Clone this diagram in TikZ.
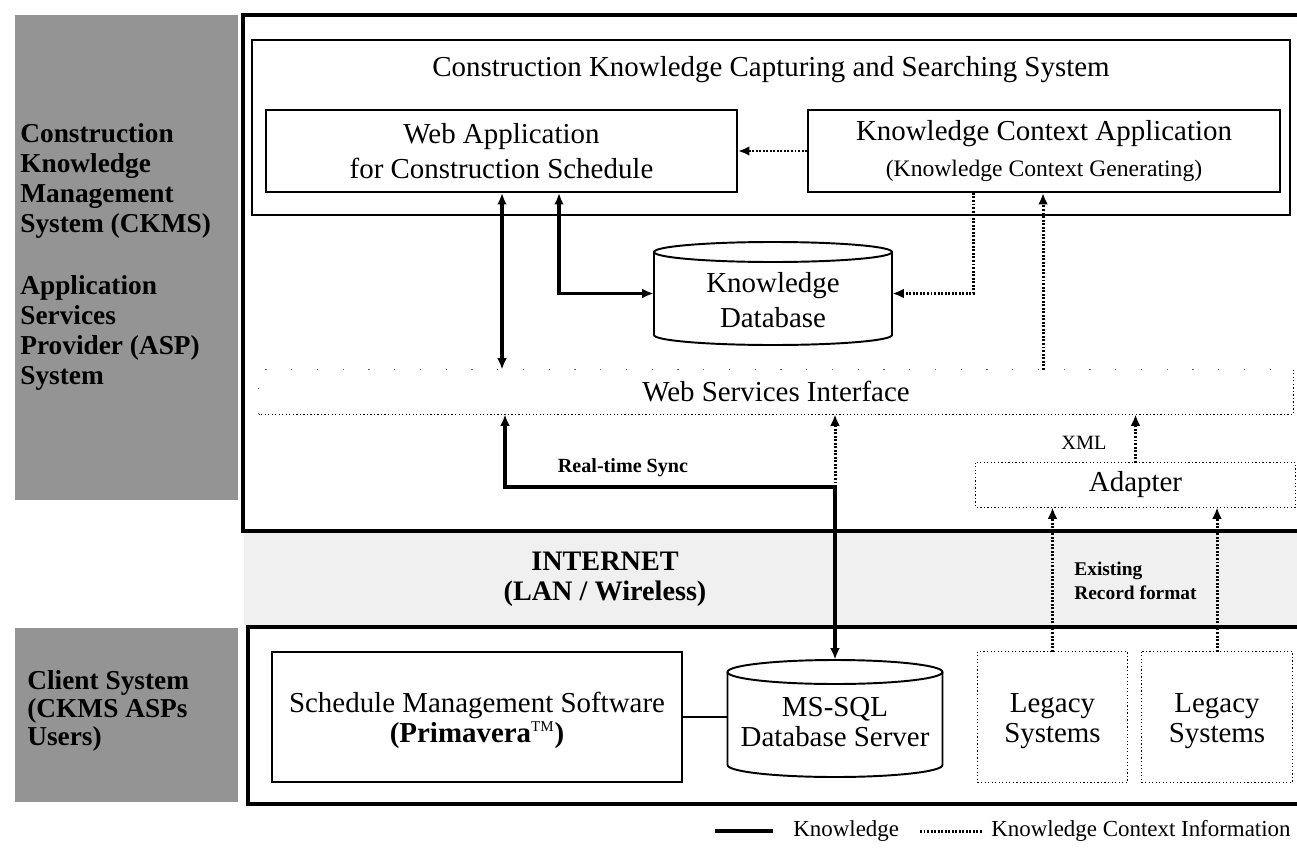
\documentclass[tikz,border=0pt]{standalone}
\usepackage{fontspec}
\setmainfont{Liberation Serif}
\usetikzlibrary{arrows.meta}
% one drawing unit = one pixel of the 1297 x 848 layout
\def\pxl{0.567pt}
\newcommand\mainfs{\fontsize{16.4}{20}\selectfont}
\newcommand\subfs{\fontsize{13.4}{16}\selectfont}
\newcommand\sidefs{\fontsize{15.5}{17}\selectfont}
\newcommand\notefs{\fontsize{11.4}{14}\selectfont}
\newcommand\legfs{\fontsize{13}{15}\selectfont}
\newcommand\rowfs{\fontsize{16.4}{17}\selectfont}

\begin{document}
\begin{tikzpicture}[x=0.567pt, y=-0.567pt,
  >={Latex[length=6.5pt,width=5.5pt]},
  panel/.style={fill=black!42},
  frame/.style={line width=1.8pt},
  sbox/.style={draw, line width=1.1pt, fill=white, inner sep=0pt, align=center, font=\mainfs},
  hbox/.style={inner sep=0pt, align=center, font=\mainfs},
  dborder/.style={line width=0.7pt, dash pattern=on 0.7pt off 1.3pt},
  cyl/.style={line width=1.1pt},
  kn/.style={line width=1.9pt},
  ctx/.style={line width=1.7pt, dash pattern=on 1.1pt off 0.9pt},
  side/.style={anchor=north west, inner sep=0pt, align=left, font=\bfseries\sidefs},
  note/.style={inner sep=0pt, font=\bfseries\notefs}
]
\useasboundingbox (0,0) rectangle (1297,848);
\clip (0,0) rectangle (1297,848);

% ---- side panels -------------------------------------------------
\fill[panel] (15,15) rectangle (238,500);
\fill[panel] (15,628) rectangle (238,802);
\node[side] (ckms) at (20,123) {Construction\\Knowledge\\Management\\System (CKMS)};
\node[side] (asp) at (20,275) {Application\\Services\\Provider (ASP)\\System};
\node[side, font=\bfseries\fontsize{15.5}{16}\selectfont] (client) at (27,670) {Client System\\(CKMS ASPs\\Users)};

% ---- internet band -----------------------------------------------
\fill[black!6] (244,533) rectangle (1297,625);
\node[inner sep=0pt, align=center, font=\bfseries\fontsize{16}{17}\selectfont] (inet) at (605,579) {INTERNET\\(LAN / Wireless)};

% ---- system frames -----------------------------------------------
\draw[frame] (1310,15) -- (243,15) -- (243,531) -- (1310,531);
\draw[frame] (1310,627) -- (248,627) -- (248,804) -- (1310,804);

% ---- capturing and searching system ------------------------------
\draw[line width=1.1pt] (252,40) rectangle (1290,215);
\node[inner sep=0pt, font=\mainfs] (title) at (771,70) {Construction Knowledge Capturing and Searching System};
\node[sbox, minimum width=471*\pxl, minimum height=82*\pxl] (webapp) at (501.5,151) {Web Application\\for Construction Schedule};
\node[sbox, minimum width=472*\pxl, minimum height=82*\pxl] (kca) at (1044,151) {Knowledge Context Application\\{\subfs (Knowledge Context Generating)}};

% ---- knowledge database (cylinder) -------------------------------
\node[inner sep=0pt, minimum width=238*\pxl, minimum height=103*\pxl] (kdb) at (773,293.5) {};
\draw[cyl] (654,252) -- (654,335) arc[start angle=180, end angle=0, x radius=119, y radius=10] -- (892,252);
\draw[cyl] (773,252) ellipse[x radius=119, y radius=10];
\node[hbox] (kdbtxt) at (773,300) {Knowledge\\Database};

% ---- web services interface --------------------------------------
\node[hbox, minimum width=1034*\pxl, minimum height=44*\pxl] (wsi) at (776,392) {Web Services Interface};
\draw[line width=0.5pt, dash pattern=on 0.6pt off 14pt, black!60] (wsi.south west) -- (wsi.north west) -- (wsi.north east);
\draw[dborder] (wsi.north east) -- (wsi.south east) -- (wsi.south west);

% ---- adapter -----------------------------------------------------
\node[hbox, minimum width=319*\pxl, minimum height=44*\pxl] (adapter) at (1135.5,485) {Adapter};
\draw[dborder] (adapter.north west) rectangle (adapter.south east);

% ---- client side -------------------------------------------------
\node[sbox, minimum width=410*\pxl, minimum height=130*\pxl, font=\rowfs, text depth=0pt] (sms) at (477,717) {\raisebox{0pt}[0pt][0pt]{}Schedule Management Software\\\textbf{(Primavera}\textsuperscript{\fontsize{8.5}{9}\selectfont TM}\textbf{)}};
\node[inner sep=0pt, minimum width=215*\pxl, minimum height=117*\pxl] (mssql) at (835,718.5) {};
\draw[cyl] (727.5,672) -- (727.5,765) arc[start angle=180, end angle=0, x radius=107.5, y radius=12] -- (942.5,672);
\draw[cyl] (835,672) ellipse[x radius=107.5, y radius=12];
\node[hbox, font=\rowfs] (mssqltxt) at (835,722) {MS-SQL\\Database Server};
\node[hbox, minimum width=149*\pxl, minimum height=130*\pxl, font=\rowfs] (leg1) at (1052.5,717) {};
\node[hbox, font=\rowfs] (leg1txt) at (1052.5,721) {Legacy\\Systems};
\draw[dborder] (leg1.north west) rectangle (leg1.south east);
\node[hbox, minimum width=150*\pxl, minimum height=130*\pxl, font=\rowfs] (leg2) at (1217,717) {};
\node[hbox, font=\rowfs] (leg2txt) at (1217,721) {Legacy\\Systems};
\draw[dborder] (leg2.north west) rectangle (leg2.south east);

% ---- connectors --------------------------------------------------
\coordinate (xa) at (502,0);
\coordinate (xb) at (559,0);
\coordinate (xc) at (973,0);
\coordinate (xd) at (1043,0);
\coordinate (xe) at (505,0);
\coordinate (rts) at (835,487);

\draw[ctx,->] (kca.west) -- (webapp.east);
\draw[kn,<->] (webapp.south -| xa) -- (wsi.north -| xa);
\draw[kn,<->] (webapp.south -| xb) |- (kdb.west);
\draw[ctx,->] (kca.south -| xc) |- (kdb.east);
\draw[ctx,->] (wsi.north -| xd) -- (kca.south -| xd);
\draw[kn,<->] (wsi.south -| xe) |- (rts) -- (mssql.north);
\draw[ctx,->] (rts) -- (wsi.south -| rts);
\draw[ctx,->] (adapter.north) -- (wsi.south -| adapter.north);
\draw[ctx,->] (leg1.north) -- (adapter.south -| leg1.north);
\draw[ctx,->] (leg2.north) -- (adapter.south -| leg2.north);
\draw[line width=0.9pt] (sms.east) -- (sms.east -| mssql.west);

% ---- connector labels --------------------------------------------
\node[note] (rtslbl) at (623,468) {Real-time Sync};
\node[inner sep=0pt, font=\fontsize{11.5}{13}\selectfont] (xml) at (1084,443) {XML};
\node[note, anchor=west, align=left, font=\bfseries\fontsize{11}{14}\selectfont] (erf) at (1074,581) {Existing\\Record format};

% ---- legend ------------------------------------------------------
\coordinate (la) at (715,831);
\coordinate (lb) at (773,831);
\draw[kn] (la) -- (lb);
\node[anchor=west, inner sep=0pt, font=\legfs] (lk) at (793,831) {Knowledge};
\coordinate (lc) at (920,831);
\coordinate (ld) at (982,831);
\draw[ctx] (lc) -- (ld);
\node[anchor=west, inner sep=0pt, font=\legfs] (lkc) at (991,831) {Knowledge Context Information};
\end{tikzpicture}
\end{document}
